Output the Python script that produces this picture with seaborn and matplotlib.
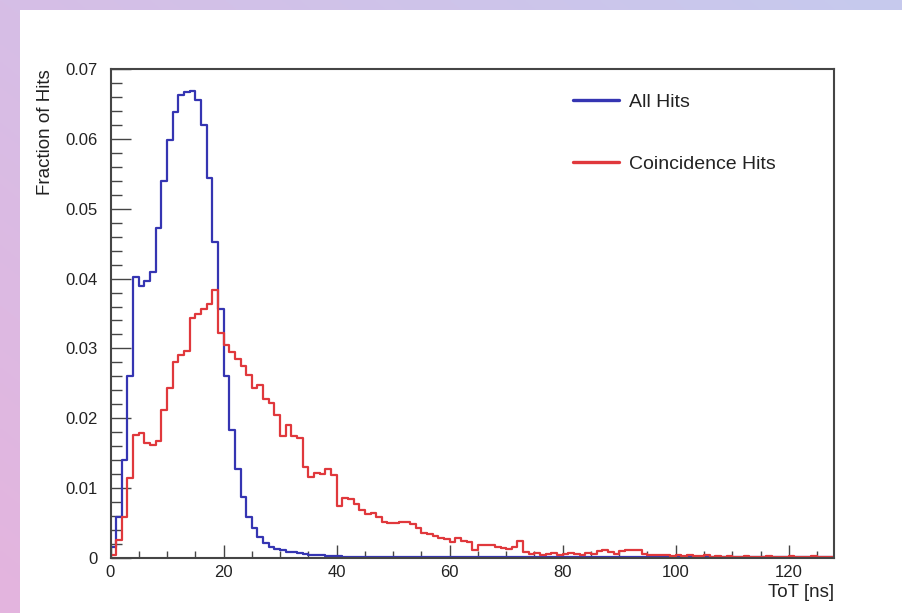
import numpy as np
import matplotlib
matplotlib.use("Agg")
import matplotlib.pyplot as plt
from matplotlib.lines import Line2D
from matplotlib.patches import Rectangle
from matplotlib.ticker import MultipleLocator, FuncFormatter
import seaborn as sns

# 1 ns wide ToT bins from 0 to 128 ns
bin_edges = list(range(0, 129))

# Normalised ToT spectrum of all hits (fraction per bin)
all_hits = [
    0.0016, 0.0059, 0.0140, 0.0260, 0.0402, 0.0389, 0.0396, 0.0410, 0.0472, 0.0539,
    0.0598, 0.0639, 0.0663, 0.0667, 0.0669, 0.0656, 0.0620, 0.0544, 0.0453, 0.0357,
    0.0260, 0.0183, 0.0128, 0.0088, 0.0059, 0.0043, 0.0030, 0.0021, 0.0016, 0.0013,
    0.0011, 0.0009, 0.0008, 0.0007, 0.0006, 0.0005, 0.0004, 0.0004, 0.0003, 0.0003,
    0.0003, 0.0002, 0.0002, 0.0002, 0.0002, 0.0002, 0.0002, 0.0002, 0.0002, 0.0002,
    0.0002, 0.0001, 0.0001, 0.0001, 0.0001, 0.0001, 0.0001, 0.0001, 0.0001, 0.0001,
    0.0001, 0.0001, 0.0001, 0.0001, 0.0001, 0.0001, 0.0001, 0.0001, 0.0001, 0.0001,
    0.0001, 0.0001, 0.0001, 0.0001, 0.0001, 0.0001, 0.0001, 0.0001, 0.0001, 0.0001,
    0.0001, 0.0001, 0.0001, 0.0001, 0.0001, 0.0001, 0.0001, 0.0001, 0.0001, 0.0001,
    0.0001, 0.0001, 0.0001, 0.0001, 0.0001, 0.0001, 0.0001, 0.0001, 0.0001, 0.0001,
    0.0001, 0.0001, 0.0001, 0.0001, 0.0001, 0.0001, 0.0001, 0.0001, 0.0001, 0.0001,
    0.0001, 0.0001, 0.0001, 0.0001, 0.0001, 0.0001, 0.0001, 0.0001, 0.0001, 0.0001,
    0.0001, 0.0001, 0.0001, 0.0001, 0.0001, 0.0001, 0.0001, 0.0001,
]

# Normalised ToT spectrum of coincidence hits (fraction per bin)
coincidence_hits = [
    0.0004, 0.0026, 0.0059, 0.0114, 0.0176, 0.0179, 0.0165, 0.0162, 0.0167, 0.0212,
    0.0243, 0.0281, 0.0291, 0.0296, 0.0343, 0.0349, 0.0356, 0.0364, 0.0384, 0.0322,
    0.0305, 0.0295, 0.0285, 0.0275, 0.0262, 0.0243, 0.0248, 0.0228, 0.0222, 0.0205,
    0.0174, 0.0190, 0.0174, 0.0172, 0.0130, 0.0116, 0.0121, 0.0120, 0.0127, 0.0119,
    0.0074, 0.0086, 0.0085, 0.0077, 0.0068, 0.0063, 0.0065, 0.0058, 0.0052, 0.0050,
    0.0050, 0.0052, 0.0052, 0.0048, 0.0043, 0.0036, 0.0034, 0.0031, 0.0029, 0.0027,
    0.0023, 0.0029, 0.0025, 0.0023, 0.0012, 0.0019, 0.0019, 0.0018, 0.0016, 0.0015,
    0.0013, 0.0016, 0.0024, 0.0008, 0.0006, 0.0007, 0.0005, 0.0006, 0.0007, 0.0005,
    0.0006, 0.0007, 0.0006, 0.0005, 0.0007, 0.0006, 0.0010, 0.0011, 0.0008, 0.0006,
    0.0010, 0.0012, 0.0011, 0.0012, 0.0006, 0.0005, 0.0004, 0.0005, 0.0004, 0.0003,
    0.0004, 0.0003, 0.0004, 0.0003, 0.0003, 0.0004, 0.0002, 0.0003, 0.0002, 0.0003,
    0.0002, 0.0002, 0.0003, 0.0002, 0.0002, 0.0002, 0.0003, 0.0002, 0.0002, 0.0002,
    0.0003, 0.0002, 0.0002, 0.0002, 0.0003, 0.0002, 0.0002, 0.0002,
]

series_labels = ["All Hits", "Coincidence Hits"]
series_colors = ["#3535b2", "#e0383c"]

x_ticks = [0, 20, 40, 60, 80, 100, 120]
y_ticks = [0, 0.01, 0.02, 0.03, 0.04, 0.05, 0.06, 0.07]

sns.set_theme(style="white")
plt.rcParams["font.family"] = ["Liberation Sans", "DejaVu Sans"]

W, H = 902, 613
fig = plt.figure(figsize=(W / 100, H / 100), dpi=100)

# Lavender gradient frame behind a white canvas
bg = fig.add_axes([0, 0, 1, 1], zorder=-5)
gx = np.linspace(0, 1, 256)[None, :, None]
gy = np.linspace(0, 1, 256)[:, None, None]
tl = np.array([214, 190, 230]) / 255
tr = np.array([198, 202, 238]) / 255
bl = np.array([228, 180, 222]) / 255
br = np.array([212, 192, 232]) / 255
grad = (tl * (1 - gx) * (1 - gy) + tr * gx * (1 - gy)
        + bl * (1 - gx) * gy + br * gx * gy)
bg.imshow(grad, extent=[0, W, H, 0], aspect="auto")
bg.add_patch(Rectangle((20, 10), W - 20, H - 10, facecolor="white", edgecolor="none"))
bg.set_xlim(0, W)
bg.set_ylim(H, 0)
bg.axis("off")

left, right, top, bottom = 110.5, 834, 69, 558
ax = fig.add_axes([left / W, 1 - bottom / H, (right - left) / W, (bottom - top) / H])
ax.set_facecolor("white")

centers = [e + 0.5 for e in bin_edges[:-1]]
for vals, col in zip([all_hits, coincidence_hits], series_colors):
    sns.histplot(x=centers, weights=vals, bins=bin_edges, element="step",
                 fill=False, color=col, linewidth=1.6, ax=ax)

ax.set_xlim(0, 128)
ax.set_ylim(0, 0.07)
ax.set_xticks(x_ticks)
ax.set_yticks(y_ticks)
ax.xaxis.set_minor_locator(MultipleLocator(5))
ax.yaxis.set_minor_locator(MultipleLocator(0.002))
ax.yaxis.set_major_formatter(FuncFormatter(lambda v, p: "0" if abs(v) < 1e-9 else f"{v:.2f}"))
ax.xaxis.set_major_formatter(FuncFormatter(lambda v, p: f"{int(round(v))}"))

frame_col = "#454545"
for s in ax.spines.values():
    s.set_color(frame_col)
    s.set_linewidth(1.5)

ax.tick_params(axis="both", which="both", direction="in", colors=frame_col,
               labelcolor="#222222", top=False, right=False, left=True, bottom=True)
ax.tick_params(axis="x", which="major", length=9.5, width=1.0, pad=5, labelsize=12)
ax.tick_params(axis="x", which="minor", length=5, width=1.0)
ax.tick_params(axis="y", which="major", length=14.5, width=1.0, pad=9, labelsize=12)
ax.tick_params(axis="y", which="minor", length=8, width=1.0)

ax.set_xlabel("ToT [ns]", fontsize=13.5, color="#222222", loc="right")
ax.xaxis.set_label_coords(1.0, -0.053)
ax.set_ylabel("Fraction of Hits", fontsize=13.5, color="#222222", loc="top")
ax.yaxis.set_label_coords(-0.078, 1.0)

handles = [Line2D([], [], color=c, linewidth=2.4) for c in series_colors]
ax.legend(handles, series_labels, loc="upper left", bbox_to_anchor=(0.639, 0.951),
          frameon=False, fontsize=14, borderpad=0, borderaxespad=0,
          handlelength=2.4, handletextpad=0.5, labelspacing=2.3,
          labelcolor="#222222")

fig.savefig("out.png", dpi=100)
